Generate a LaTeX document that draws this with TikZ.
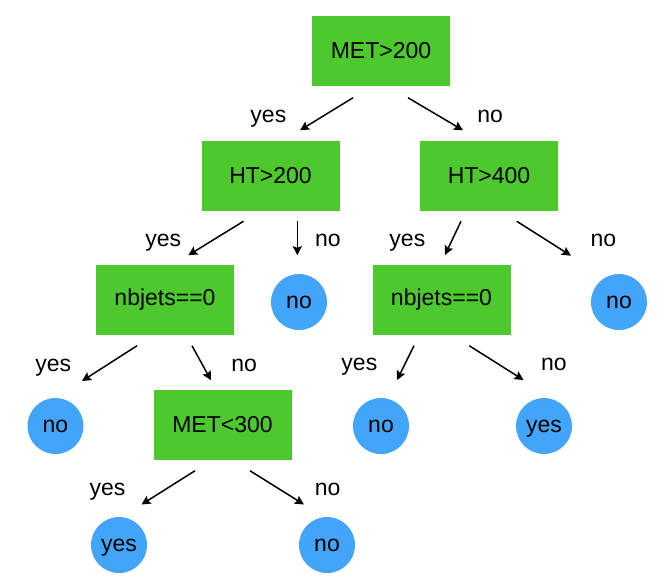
\documentclass[tikz,border=0pt]{standalone}
\usepackage{fontspec}
\setmainfont{Liberation Sans}
\usepackage{tikz}
\usetikzlibrary{arrows.meta,positioning}

\definecolor{cutgreen}{RGB}{77,201,45}
\definecolor{leafblue}{RGB}{66,165,250}

\begin{document}
\begin{tikzpicture}[node font=\fontsize{23}{27}\selectfont,on grid,>={Stealth[length=9pt,width=9pt,inset=1.5pt]},line width=1.5pt]
	\tikzstyle{cut}=[rectangle,fill=cutgreen,minimum width=138pt,minimum height=70pt,inner sep=0pt]
	\tikzstyle{leaf}=[circle,fill=leafblue,minimum size=56pt,inner sep=0pt,text height=12pt,text depth=0pt]
	\tikzstyle{answer}=[inner sep=0pt,text height=12pt,text depth=0pt,yshift=-2pt]
	\useasboundingbox (0,0) rectangle (671pt,-587pt);
	
	\node[cut]  (MET)                                           at (381pt,-51pt) {MET>200};
	\node[cut]  (HTL)  [below left=125pt and 110.5pt of MET]    {HT>200};
	\node[cut]  (HTR)  [below right=125pt and 108pt of MET]     {HT>400};
	\node[cut]  (NBL)  [below left=124pt and 105.5pt of HTL]    {nbjets==0};
	\node[leaf] (NOA)  [below right=126pt and 28.5pt of HTL]    {no};
	\node[cut]  (NBR)  [below left=124pt and 47.5pt of HTR]     {nbjets==0};
	\node[leaf] (NOB)  [below right=126pt and 130pt of HTR]     {no};
	\node[leaf] (NOC)  [below left=126pt and 109.5pt of NBL]    {no};
	\node[cut]  (MLOW) [below right=125pt and 57.5pt of NBL]    {MET<300};
	\node[leaf] (NOD)  [below left=126pt and 60.5pt of NBR]     {no};
	\node[leaf] (YESA) [below right=126pt and 102.5pt of NBR]   {yes};
	\node[leaf] (YESB) [below left=120pt and 103.5pt of MLOW]   {yes};
	\node[leaf] (NOE)  [below right=120pt and 104.5pt of MLOW]  {no};
	
	\path[->]
	([shift={(-28pt,-11pt)}]MET.south)   edge node[answer,left=39.5pt] {yes} ([shift={(29.5pt,10pt)}]HTL.north)
	([shift={(27pt,-11pt)}]MET.south)    edge node[answer,right=41pt] {no} ([shift={(-26pt,10pt)}]HTR.north)
	([shift={(-27pt,-9.5pt)}]HTL.south)  edge node[answer,left=34pt] {yes} ([shift={(23.3pt,9pt)}]NBL.north)
	([shift={(26.8pt,-9.5pt)}]HTL.south) edge node[answer,right=17pt] {no} ([shift={(-1.7pt,18pt)}]NOA.north)
	([shift={(-28pt,-9.5pt)}]HTR.south)  edge node[answer,left=27pt] {yes} ([shift={(3.5pt,9.3pt)}]NBR.north)
	([shift={(27.7pt,-9.5pt)}]HTR.south) edge node[answer,right=46pt] {no} ([shift={(-48pt,46.3pt)}]NOB.center)
	([shift={(-28pt,-10pt)}]NBL.south)   edge node[answer,left=37.5pt] {yes} ([shift={(26.5pt,45pt)}]NOC.center)
	([shift={(27pt,-10pt)}]NBL.south)    edge node[answer,right=29pt] {no} ([shift={(-11.5pt,9pt)}]MLOW.north)
	([shift={(-27.5pt,-10pt)}]NBR.south) edge node[answer,left=27.5pt] {yes} ([shift={(16pt,46pt)}]NOD.center)
	([shift={(27.8pt,-10pt)}]NBR.south)  edge node[answer,right=44pt] {no} ([shift={(-20.5pt,46pt)}]YESA.center)
	([shift={(-27.5pt,-10pt)}]MLOW.south) edge node[answer,left=42pt] {yes} ([shift={(22.5pt,40.5pt)}]YESB.center)
	([shift={(27.5pt,-10pt)}]MLOW.south) edge node[answer,right=37pt] {no} ([shift={(-23pt,40.5pt)}]NOE.center);
\end{tikzpicture}
\end{document}
